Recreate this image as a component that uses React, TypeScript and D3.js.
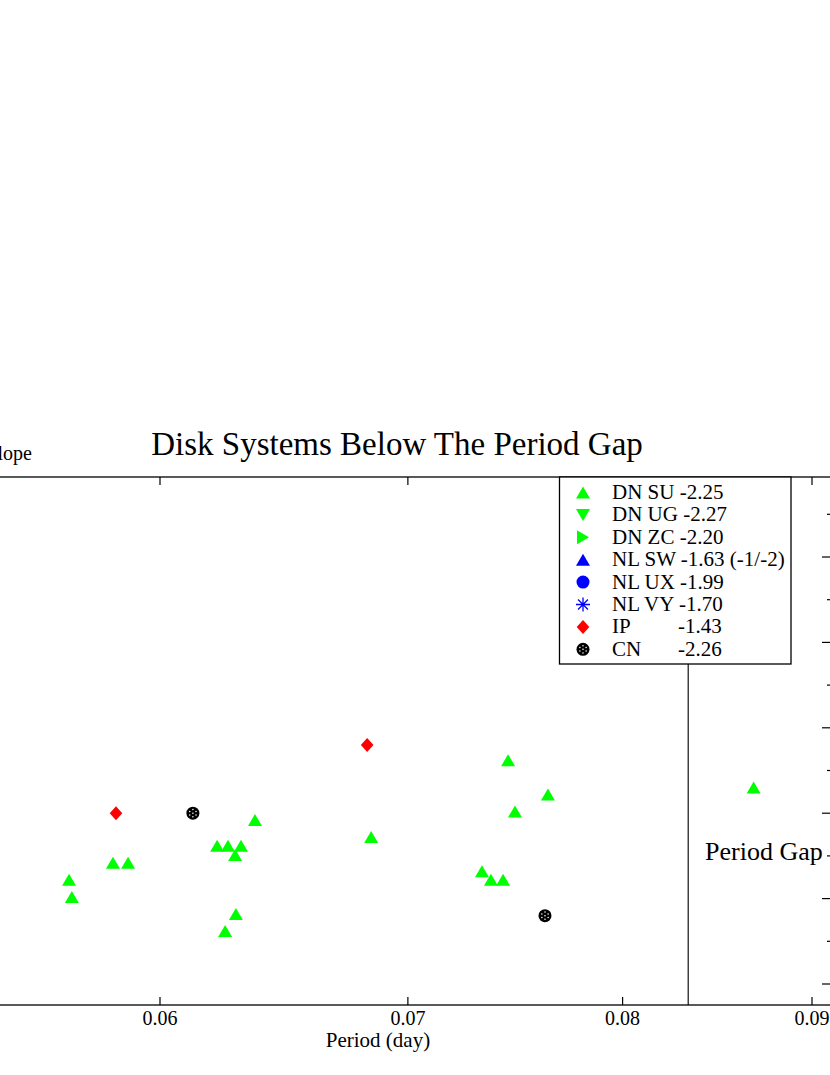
import React from "react";
import * as d3 from "d3";

// Dwarf nova SU UMa type
const suPeriod = [0.0567, 0.0568, 0.05827, 0.05882, 0.06217, 0.06259, 0.0631, 0.06287, 0.06365, 0.0629, 0.06248, 0.06842, 0.0733, 0.07371, 0.07427, 0.0745, 0.07482, 0.07637, 0.08679];
const suSlope = [-2.39, -2.49, -2.29, -2.29, -2.19, -2.19, -2.19, -2.245, -2.04, -2.59, -2.69, -2.14, -2.34, -2.39, -2.39, -1.69, -1.99, -1.89, -1.85];
// Intermediate polars
const ipPeriod = [0.05838, 0.06825];
const ipSlope = [-2.0, -1.6];
// Classical novae
const cnPeriod = [0.06124, 0.07623];
const cnSlope = [-2.0, -2.6];

const gapPeriod = 2 / 24;
const xTicks = [0.06, 0.07, 0.08, 0.09];
const yMajor = [-0.5, -1.0, -1.5, -2.0, -2.5, -3.0];
const yMinor = [-0.25, -0.75, -1.25, -1.75, -2.25, -2.75];

const legendNames = ["DN SU", "DN UG", "DN ZC", "NL SW", "NL UX", "NL VY", "IP", "CN"];
const legendValues = ["-2.25", "-2.27", "-2.20", "-1.63 (-1/-2)", "-1.99", "-1.70", "-1.43", "-2.26"];
const legendKinds = ["up", "down", "right", "up", "circle", "star", "diamond", "cn"];
const legendColors = ["#00ff00", "#00ff00", "#00ff00", "#0000ff", "#0000ff", "#0000ff", "#ff0000", "#000"];

const FONT = "'Liberation Serif', 'Times New Roman', serif";

const margin = { top: 477, bottom: 1005, left: -37, right: 831 };

function Marker({ kind, x, y, color }: { kind: string; x: number; y: number; color: string }) {
  const w = 7, h = 6;
  if (kind === "up") return <path d={`M${x},${y - h}L${x + w},${y + h}L${x - w},${y + h}Z`} fill={color} />;
  if (kind === "down") return <path d={`M${x},${y + h}L${x + w},${y - h}L${x - w},${y - h}Z`} fill={color} />;
  if (kind === "right") return <path d={`M${x + h},${y}L${x - h},${y - w}L${x - h},${y + w}Z`} fill={color} />;
  if (kind === "circle") return <circle cx={x} cy={y} r={6.5} fill={color} />;
  if (kind === "diamond") return <path d={`M${x},${y - 7}L${x + 6.3},${y}L${x},${y + 7}L${x - 6.3},${y}Z`} fill={color} />;
  if (kind === "star") {
    const r = 7;
    const d = r * Math.SQRT1_2;
    return (
      <path
        d={`M${x - r},${y}L${x + r},${y}M${x},${y - r}L${x},${y + r}M${x - d},${y - d}L${x + d},${y + d}M${x - d},${y + d}L${x + d},${y - d}`}
        stroke={color}
        strokeWidth={1.3}
      />
    );
  }
  // CN: black disk with white dotted pattern
  const dots = d3.range(6).map((i) => {
    const a = (i * Math.PI) / 3 + Math.PI / 6;
    return [x + 3.6 * Math.cos(a), y + 3.6 * Math.sin(a)];
  });
  return (
    <g>
      <circle cx={x} cy={y} r={6.5} fill="#000" />
      <circle cx={x} cy={y} r={0.8} fill="#fff" />
      {dots.map(([cx, cy], i) => (
        <circle key={i} cx={cx} cy={cy} r={0.75} fill="#fff" />
      ))}
    </g>
  );
}

export default function App() {
  const width = 830;
  const height = 1075;

  const x = d3
    .scaleLog()
    .domain([0.06, 0.09])
    .range([160, 812]);
  const y = d3
    .scaleLinear()
    .domain([-3.0, -0.5])
    .range([984, 557]);

  const legX = 559.5;
  const legY = 477;
  const rowBase = (i: number) => 499 + i * 22.4;

  return (
    <div>
      <style>{`body{margin:0}`}</style>
      <svg width={width} height={height} style={{ display: "block", overflow: "hidden" }} fontFamily={FONT}>
        <rect width={width} height={height} fill="#fff" />

        {/* title & labels */}
        <text x={397} y={455} fontSize={33} textAnchor="middle">
          Disk Systems Below The Period Gap
        </text>
        <text x={32} y={460} fontSize={20} textAnchor="end">
          Slope
        </text>
        <text x={378} y={1047} fontSize={21} textAnchor="middle">
          Period (day)
        </text>

        {/* x ticks */}
        {xTicks.map((t) => (
          <g key={t}>
            <line x1={x(t)} x2={x(t)} y1={margin.bottom} y2={margin.bottom - 8} stroke="#000" strokeWidth={1.2} />
            <line x1={x(t)} x2={x(t)} y1={margin.top} y2={margin.top + 8} stroke="#000" strokeWidth={1.2} />
            <text x={x(t)} y={1025} fontSize={20} textAnchor="middle">
              {d3.format(".2f")(t)}
            </text>
          </g>
        ))}

        {/* right y ticks */}
        {yMajor.map((t) => (
          <line key={t} x1={margin.right} x2={margin.right - 9} y1={y(t)} y2={y(t)} stroke="#000" strokeWidth={1.2} />
        ))}
        {yMinor.map((t) => (
          <line key={t} x1={margin.right} x2={margin.right - 4} y1={y(t)} y2={y(t)} stroke="#000" strokeWidth={1.2} />
        ))}

        {/* period gap */}
        <line x1={x(gapPeriod)} x2={x(gapPeriod)} y1={margin.top} y2={margin.bottom} stroke="#333" strokeWidth={1.4} />
        <text x={705} y={860} fontSize={26}>
          Period Gap
        </text>

        {/* data */}
        {suPeriod.map((p, i) => (
          <Marker key={"su" + i} kind="up" x={x(p)} y={y(suSlope[i])} color="#00ff00" />
        ))}
        {ipPeriod.map((p, i) => (
          <Marker key={"ip" + i} kind="diamond" x={x(p)} y={y(ipSlope[i])} color="#ff0000" />
        ))}
        {cnPeriod.map((p, i) => (
          <Marker key={"cn" + i} kind="cn" x={x(p)} y={y(cnSlope[i])} color="#000" />
        ))}

        {/* frame */}
        <rect
          x={margin.left}
          y={margin.top}
          width={margin.right - margin.left}
          height={margin.bottom - margin.top}
          fill="none"
          stroke="#000"
          strokeWidth={1.3}
        />

        {/* legend */}
        <rect x={legX} y={legY} width={231.5} height={187} fill="#fff" stroke="#000" strokeWidth={1.3} />
        {legendNames.map((name, i) => {
          const aligned = name.length <= 2;
          return (
            <g key={name}>
              <Marker kind={legendKinds[i]} x={583} y={rowBase(i) - 6.5} color={legendColors[i]} />
              {aligned ? (
                <>
                  <text x={612} y={rowBase(i)} fontSize={21}>
                    {name}
                  </text>
                  <text x={678} y={rowBase(i)} fontSize={21}>
                    {legendValues[i]}
                  </text>
                </>
              ) : (
                <text x={612} y={rowBase(i)} fontSize={21}>
                  {name + " " + legendValues[i]}
                </text>
              )}
            </g>
          );
        })}
      </svg>
    </div>
  );
}
